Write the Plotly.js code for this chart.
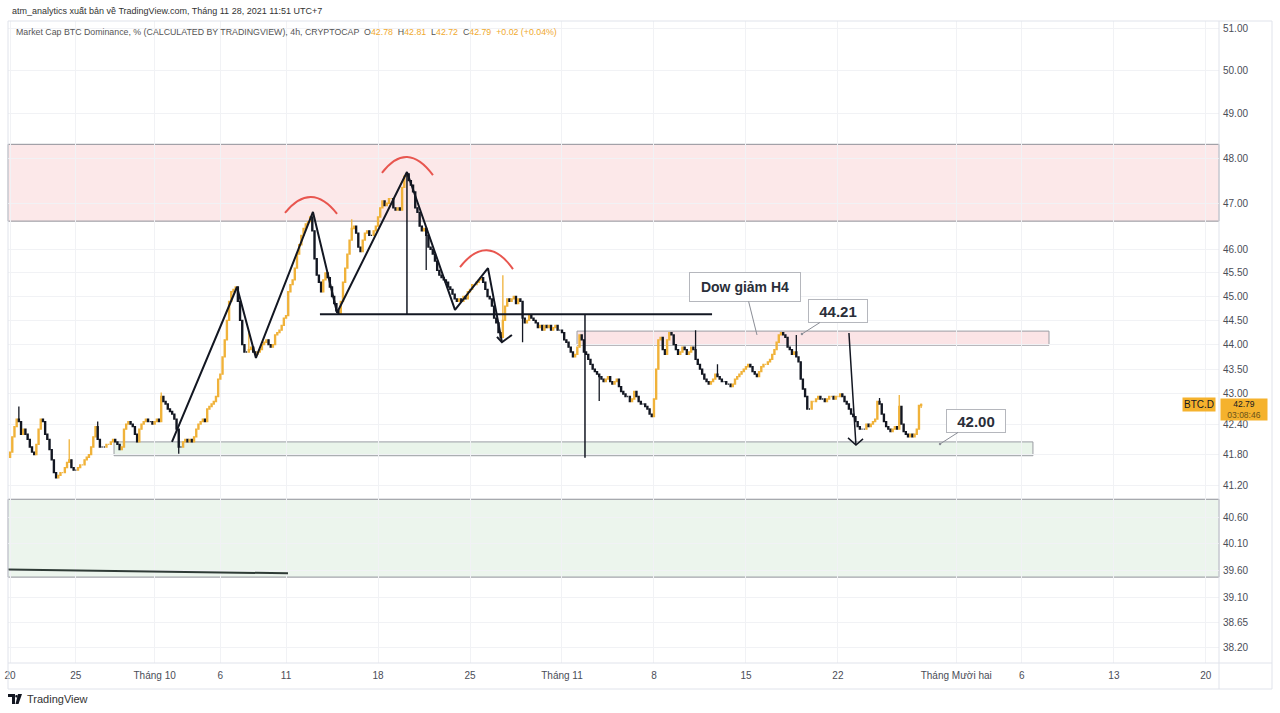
<!DOCTYPE html>
<html>
<head>
<meta charset="utf-8">
<script src="https://cdn.plot.ly/plotly-3.0.1.min.js"></script>
<style>
  html, body { margin: 0; padding: 0; background: #fff; }
  #chart { width: 1280px; height: 713px; }
</style>
</head>
<body>
<div id="chart"></div>
<script>
// BTC.D 4h candles, Sep 20 2021 00:00 -> Nov 28 2021 08:00 (one close per bar, 6 bars a day)
var firstOpen = 41.75;
var closes = [
  41.85, 42.15, 42.35, 42.50, 42.45, 42.20,  // Sep 20
  42.30, 42.20, 42.10, 41.95, 41.85, 41.80,
  42.00, 42.30, 42.50, 42.45, 42.20, 42.10,
  41.90, 41.70, 41.45, 41.35, 41.40, 41.45,
  41.45, 41.55, 41.65, 41.70, 41.55, 41.50,
  41.50, 41.55, 41.60, 41.60, 41.70, 41.75,  // Sep 25
  41.80, 41.95, 42.15, 42.35, 42.10, 41.95,
  41.95, 41.95, 42.00, 42.00, 42.05, 42.10,
  42.05, 42.00, 41.90, 41.95, 42.30, 42.40,
  42.45, 42.40, 42.35, 42.20, 42.05, 42.30,
  42.40, 42.45, 42.50, 42.45, 42.45, 42.40,  // Sep 30
  42.45, 42.50, 42.45, 42.95, 42.85, 42.80,  // Oct 1
  42.70, 42.65, 42.60, 42.50, 42.30, 41.95,
  41.95, 42.05, 42.10, 42.05, 42.10, 42.05,
  42.15, 42.30, 42.40, 42.45, 42.50, 42.45,
  42.70, 42.75, 42.80, 42.85, 42.95, 43.30,
  43.40, 43.75, 44.10, 44.50, 44.90, 45.10,  // Oct 6
  45.15, 45.20, 44.90, 44.50, 44.00, 43.85,
  43.85, 43.90, 43.95, 43.85, 43.80, 43.85,
  43.90, 44.00, 44.05, 44.10, 44.00, 43.95,
  44.00, 44.20, 44.25, 44.30, 44.40, 44.55,
  44.60, 45.10, 45.25, 45.35, 45.60, 45.90,  // Oct 11
  46.10, 46.30, 46.45, 46.55, 46.60, 46.70,
  46.40, 45.80, 45.45, 45.30, 45.10, 45.35,
  45.50, 45.40, 45.20, 45.00, 44.85, 44.70,
  44.65, 44.90, 45.30, 45.60, 45.90, 46.20,
  46.45, 46.50, 46.35, 46.05, 45.95, 46.20,  // Oct 16
  46.35, 46.40, 46.30, 46.30, 46.40, 46.50,
  46.70, 46.90, 47.05, 46.95, 47.00, 47.10,
  47.10, 46.90, 46.85, 46.90, 46.85, 47.35,
  47.60, 47.65, 47.50, 47.40, 47.25, 46.90,
  46.80, 46.50, 46.40, 46.45, 46.30, 46.05,  // Oct 21
  46.00, 45.90, 45.75, 45.55, 45.45, 45.40,
  45.35, 45.30, 45.20, 45.15, 45.05, 44.95,
  44.90, 44.95, 44.90, 45.00, 44.95, 45.10,
  45.15, 45.25, 45.25, 45.30, 45.35, 45.40,
  45.30, 45.15, 45.00, 44.95, 44.80, 44.55,  // Oct 26
  44.45, 44.25, 44.15, 44.50, 44.80, 44.95,
  44.90, 44.95, 45.00, 44.85, 44.95, 44.90,
  44.55, 44.45, 44.50, 44.60, 44.55, 44.50,
  44.45, 44.35, 44.40, 44.30, 44.40, 44.35,
  44.40, 44.30, 44.35, 44.40, 44.30, 44.30,  // Oct 31
  44.25, 44.10, 44.05, 43.95, 43.85, 43.75,  // Nov 1
  43.80, 43.95, 44.20, 44.10, 43.85, 43.80,
  43.70, 43.60, 43.50, 43.45, 43.40, 43.35,
  43.30, 43.25, 43.30, 43.35, 43.25, 43.20,
  43.25, 43.30, 43.15, 43.05, 43.00, 42.95,
  42.95, 42.85, 42.90, 43.05, 42.95, 42.85,  // Nov 6
  42.80, 42.80, 42.75, 42.70, 42.60, 42.55,
  42.90, 43.50, 44.10, 44.15, 43.90, 43.80,
  44.10, 44.25, 44.20, 44.00, 43.90, 43.80,
  43.85, 43.95, 43.90, 43.80, 43.85, 43.95,
  43.90, 43.70, 43.60, 43.50, 43.40, 43.30,  // Nov 11
  43.25, 43.20, 43.25, 43.30, 43.40, 43.35,
  43.30, 43.25, 43.25, 43.20, 43.20, 43.15,
  43.20, 43.30, 43.35, 43.40, 43.45, 43.50,
  43.55, 43.60, 43.55, 43.45, 43.40, 43.35,
  43.45, 43.55, 43.60, 43.60, 43.65, 43.70,  // Nov 16
  43.80, 43.90, 44.05, 44.20, 44.25, 44.20,
  44.15, 43.95, 43.90, 43.80, 43.85, 43.75,
  43.65, 43.30, 43.10, 42.95, 42.70, 42.70,
  42.85, 42.85, 42.90, 42.95, 42.90, 42.90,
  42.85, 42.90, 42.95, 42.95, 42.90, 42.95,  // Nov 21
  42.95, 43.00, 42.95, 42.85, 42.80, 42.70,
  42.60, 42.55, 42.45, 42.35, 42.30, 42.30,
  42.30, 42.40, 42.35, 42.40, 42.45, 42.50,
  42.85, 42.80, 42.60, 42.45, 42.35, 42.30,
  42.25, 42.30, 42.35, 42.30, 42.75, 42.40,  // Nov 26
  42.25, 42.20, 42.15, 42.20, 42.15, 42.20,
  42.30, 42.77, 42.79                        // Nov 28
];
// bars whose wick reaches clearly past the body (bar index -> price)
var wickHigh = { 4: 42.75, 27: 42.10, 40: 42.45, 69: 43.03, 109: 44.25, 156: 46.65, 225: 45.45,
                 313: 44.30, 323: 43.60, 359: 44.20, 397: 42.92, 406: 42.98, 416: 42.81 };
var wickLow = { 77: 41.82, 190: 45.56, 234: 44.05, 269: 42.86, 416: 42.72 };

var priceTicks = [51, 50, 49, 48, 47, 46, 45.5, 45, 44.5, 44, 43.5, 43, 42.4, 41.8, 41.2, 40.6, 40.1, 39.6, 39.1, 38.65, 38.2];
var dateTicks = ["2021-09-20", "2021-09-25", "2021-10-01", "2021-10-06", "2021-10-11", "2021-10-18", "2021-10-25",
                 "2021-11-01", "2021-11-08", "2021-11-15", "2021-11-22", "2021-12-01", "2021-12-06", "2021-12-13", "2021-12-20"];
var dateLabels = ["20", "25", "Tháng 10", "6", "11", "18", "25", "Tháng 11", "8", "15", "22", "Tháng Mười hai", "6", "13", "20"];

// drawings
var upperZone = [46.61, 48.31];
var lowerZone = [39.48, 40.94];
var resistBoxX = ["2021-11-02 03:25", "2021-12-08 01:30"], resistBoxY = [43.99, 44.28];
var supportBoxX = ["2021-09-27 21:50", "2021-12-06 20:10"], supportBoxY = [41.78, 42.05];
var swingX = ["2021-10-02 07:40", "2021-10-07 06:25", "2021-10-08 17:00", "2021-10-13 01:10", "2021-10-14 21:10",
              "2021-10-20 04:50", "2021-10-23 20:35", "2021-10-26 08:50", "2021-10-27 10:20"];
var swingY = [42.05, 45.20, 43.73, 46.81, 44.66, 47.69, 44.72, 45.60, 44.05];
var swingHeadX = ["2021-10-27 01:15", "2021-10-27 10:20", "2021-10-28 04:35"], swingHeadY = [44.16, 44.05, 44.20];
var necklineX = ["2021-10-13 13:55", "2021-11-12 10:05"], neckline = 44.63;
var peakDrop = { x: "2021-10-20 04:50", top: 47.69 };
var breakDrop = { x: "2021-11-02 18:00", bottom: 41.74 };
var targetX = ["2021-11-22 20:10", "2021-11-23 08:55"], targetY = [44.24, 41.99];
var targetHeadX = ["2021-11-22 18:25", "2021-11-23 08:55", "2021-11-23 21:50"], targetHeadY = [42.13, 41.99, 42.11];
var oldLineX = ["2021-09-19 12:00", "2021-10-11 03:35"], oldLineY = [39.62, 39.55];
// red arcs over the tops: [start, control, end] as [date, price]
var arcs = [
  [["2021-10-10 22:05", 46.79], ["2021-10-12 21:35", 47.50], ["2021-10-14 21:10", 46.77]],
  [["2021-10-18 07:10", 47.67], ["2021-10-20 04:50", 48.41], ["2021-10-22 04:20", 47.62]],
  [["2021-10-24 05:45", 45.62], ["2021-10-26 07:00", 46.37], ["2021-10-28 06:30", 45.58]]
];
var lastPrice = 42.79;

function stamp(ms) { return new Date(ms).toISOString().slice(0, 16).replace("T", " "); }
function lg(v) { return Math.log10(v); }
// screen position -> paper coords (decorations outside the price pane)
function px(x) { return (x - 8) / 1211; }
function py(y) { return (663 - y) / 642; }

var t0 = Date.UTC(2021, 8, 20, 0, 0);
var times = closes.map(function (_, i) { return stamp(t0 + i * 4 * 3600e3); });
var opens = closes.map(function (c, i) { return i === 0 ? firstOpen : closes[i - 1]; });
var highs = closes.map(function (c, i) { return wickHigh[i] !== undefined ? wickHigh[i] : Math.max(c, opens[i]); });
var lows = closes.map(function (c, i) { return wickLow[i] !== undefined ? wickLow[i] : Math.min(c, opens[i]); });

var ink = "#131722", gold = "#f0b23a";
function line(x, y, w) {
  return { type: "scatter", mode: "lines", x: x, y: y, line: { color: ink, width: w || 2 }, hoverinfo: "skip", showlegend: false };
}

var traces = [
  { type: "candlestick", x: times, open: opens, high: highs, low: lows, close: closes,
    increasing: { line: { color: gold, width: 1.3 }, fillcolor: gold },
    decreasing: { line: { color: ink, width: 1.3 }, fillcolor: ink },
    whiskerwidth: 0, hoverinfo: "skip", showlegend: false },
  line(swingX, swingY, 2),
  line(swingHeadX, swingHeadY, 2),
  line(necklineX, [neckline, neckline], 2),
  line([peakDrop.x, peakDrop.x], [peakDrop.top, neckline], 1.5),
  line([breakDrop.x, breakDrop.x], [neckline, breakDrop.bottom], 1.5),
  line(targetX, targetY, 1.5),
  line(targetHeadX, targetHeadY, 1.5),
  { type: "scatter", mode: "lines", x: oldLineX, y: oldLineY, line: { color: "#2f3b36", width: 2 }, hoverinfo: "skip", showlegend: false }
];

var shapes = [
  { type: "rect", xref: "paper", x0: 0, x1: 1, yref: "y", y0: upperZone[0], y1: upperZone[1],
    fillcolor: "#fce8e9", line: { color: "#8e9098", width: 1 }, layer: "below" },
  { type: "rect", xref: "paper", x0: 0, x1: 1, yref: "y", y0: lowerZone[0], y1: lowerZone[1],
    fillcolor: "#ecf5ed", line: { color: "#8e9098", width: 1 }, layer: "below" },
  { type: "rect", xref: "x", yref: "y", x0: resistBoxX[0], x1: resistBoxX[1], y0: resistBoxY[0], y1: resistBoxY[1],
    fillcolor: "#fbe4e6", line: { color: "#9a9ca3", width: 1 }, layer: "below" },
  { type: "rect", xref: "x", yref: "y", x0: supportBoxX[0], x1: supportBoxX[1], y0: supportBoxY[0], y1: supportBoxY[1],
    fillcolor: "#e9f4ea", line: { color: "#9a9ca3", width: 1 }, layer: "below" }
];
arcs.forEach(function (a) {
  var p = a.map(function (q) { return q[0].replace(" ", "_") + "," + q[1]; });
  shapes.push({ type: "path", xref: "x", yref: "y", path: "M" + p[0] + " Q" + p[1] + " " + p[2],
    line: { color: "#e8564f", width: 2 }, layer: "above" });
});
// pane frame
var frame = "#e0e3eb";
shapes.push({ type: "rect", xref: "paper", yref: "paper", x0: px(8), x1: px(1272), y0: py(689), y1: py(21), line: { color: frame, width: 1 } });
shapes.push({ type: "line", xref: "paper", yref: "paper", x0: 1, x1: 1, y0: py(689), y1: py(21), line: { color: frame, width: 1 } });
shapes.push({ type: "line", xref: "paper", yref: "paper", x0: 0, x1: px(1272), y0: 0, y1: 0, line: { color: frame, width: 1 } });
// TradingView mark
shapes.push({ type: "path", xref: "paper", yref: "paper", fillcolor: ink, line: { width: 0 },
  path: "M" + px(8) + "," + py(694) + " L" + px(15) + "," + py(694) + " L" + px(15) + "," + py(704) + " L" + px(12) + "," + py(704) +
        " L" + px(12) + "," + py(697) + " L" + px(8) + "," + py(697) + " Z" });
shapes.push({ type: "path", xref: "paper", yref: "paper", fillcolor: ink, line: { width: 0 },
  path: "M" + px(18) + "," + py(694) + " L" + px(22) + "," + py(694) + " L" + px(18.5) + "," + py(704) + " L" + px(15.5) + "," + py(704) + " Z" });
shapes.push({ type: "circle", xref: "paper", yref: "paper", fillcolor: ink, line: { width: 0 },
  x0: px(15.2), x1: px(17.8), y0: py(697.5), y1: py(694.9) });

var amber = "#f0a92e";
function callout(text, x, y, ax, ay, w, h, size, head) {
  return { x: x, y: lg(y), xref: "x", yref: "y", text: "<b>" + text + "</b>", showarrow: true,
    arrowhead: head, arrowsize: 0.6, arrowwidth: 1, arrowcolor: "#8a8d96", ax: ax, ay: ay,
    width: w, height: h, bgcolor: "#ffffff", bordercolor: "#b5b7bd", borderwidth: 1, borderpad: 3,
    font: { size: size, color: "#2a2e39" } };
}

var annotations = [
  { xref: "paper", yref: "paper", x: px(10), y: py(11), xanchor: "left", yanchor: "middle", showarrow: false,
    text: "atm_analytics xuất bản về TradingView.com, Tháng 11 28, 2021 11:51 UTC+7", font: { size: 9, color: "#333333" } },
  { xref: "paper", yref: "paper", x: px(14), y: py(32), xanchor: "left", yanchor: "middle", showarrow: false,
    text: "Market Cap BTC Dominance, % (CALCULATED BY TRADINGVIEW), 4h, CRYPTOCAP  O<span style='color:" + amber + "'>42.78</span>  H<span style='color:" + amber +
          "'>42.81</span>  L<span style='color:" + amber + "'>42.72</span>  C<span style='color:" + amber + "'>42.79</span>  <span style='color:" + amber + "'>+0.02 (+0.04%)</span>",
    font: { size: 8.8, color: "#555555" } },
  { xref: "paper", yref: "paper", x: px(25), y: py(699), xanchor: "left", yanchor: "middle", showarrow: false,
    text: "TradingView", font: { size: 11, color: "#333333" } },
  callout("Dow giảm H4", "2021-11-15 20:10", 44.20, -12, -48, 104, 22, 14, 0),
  callout("44.21", "2021-11-19 06:15", 44.22, 36, -23, 52, 16, 15, 6),
  callout("42.00", "2021-11-29 18:30", 42.01, 36, -23, 52, 16, 15, 6),
  { xref: "paper", yref: "y", x: px(1243.5), y: lg(lastPrice), yshift: -5, xanchor: "center", yanchor: "middle", showarrow: false,
    text: "42.79<br><span style='color:#6b5318'>03:08:46</span>", bgcolor: "#f5b22d", width: 46, borderpad: 0,
    font: { size: 8.5, color: ink } },
  { xref: "paper", yref: "y", x: px(1199), y: lg(lastPrice), xanchor: "center", yanchor: "middle", showarrow: false,
    text: "BTC.D", bgcolor: "#f5b22d", width: 30, borderpad: 1, font: { size: 10, color: ink } }
];

var layout = {
  width: 1280, height: 713,
  margin: { l: 8, r: 61, t: 21, b: 50 },
  paper_bgcolor: "#ffffff", plot_bgcolor: "#ffffff",
  font: { family: "Liberation Sans, Arial, sans-serif", size: 10, color: "#50535e" },
  showlegend: false, hovermode: false, dragmode: false,
  xaxis: { type: "date", range: ["2021-09-19 20:10", "2021-12-21 00:00"], tickvals: dateTicks, ticktext: dateLabels,
           showgrid: true, gridcolor: "#f1f2f5", zeroline: false, showline: false, ticks: "", ticklabelstandoff: 5,
           rangeslider: { visible: false }, fixedrange: true, tickfont: { size: 10, color: "#4a4d57" } },
  yaxis: { type: "log", side: "right", range: [lg(37.93), lg(51.17)], tickvals: priceTicks,
           ticktext: priceTicks.map(function (v) { return v.toFixed(2); }),
           showgrid: true, gridcolor: "#f1f2f5", zeroline: false, showline: false, ticks: "", ticklabelstandoff: 3,
           fixedrange: true, tickfont: { size: 10, color: "#4a4d57" } },
  shapes: shapes,
  annotations: annotations
};

Plotly.newPlot("chart", traces, layout, { displayModeBar: false, staticPlot: true });
</script>
</body>
</html>
